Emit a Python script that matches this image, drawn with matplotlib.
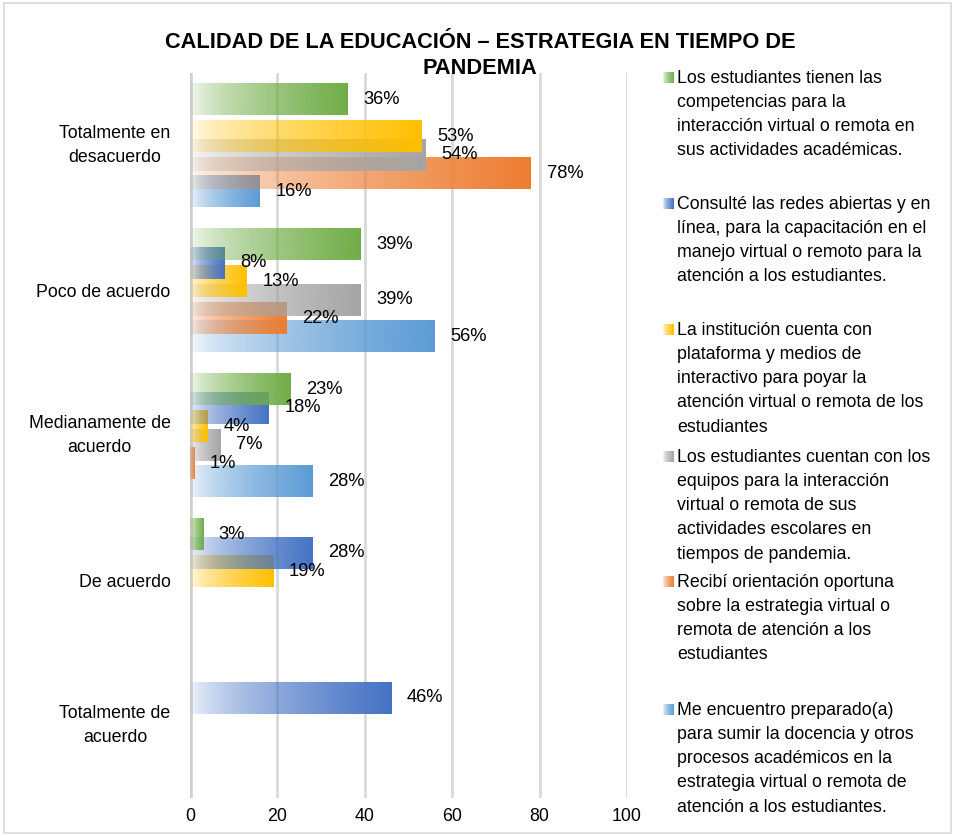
import numpy as np
import matplotlib.pyplot as plt
from matplotlib.colors import to_rgb
from matplotlib.patches import Rectangle

plt.rcParams['font.family'] = ['Liberation Sans', 'DejaVu Sans']

# Data
categories = ['Totalmente en\ndesacuerdo', 'Poco de acuerdo', 'Medianamente de\nacuerdo',
              'De acuerdo', 'Totalmente de\nacuerdo']
green = [36, 39, 23, 3, 0]
blue = [0, 8, 18, 28, 46]
yellow = [53, 13, 4, 19, 0]
gray = [54, 39, 7, 0, 0]
orange = [78, 22, 1, 0, 0]
lightblue = [16, 56, 28, 0, 0]

series = [green, blue, yellow, gray, orange, lightblue]
colors = ['#70AD47', '#4472C4', '#FFC000', '#A5A5A5', '#ED7D31', '#5B9BD5']
legend_labels = [
    'Los estudiantes tienen las\ncompetencias para la\ninteracción virtual o remota en\nsus actividades académicas.',
    'Consulté las redes abiertas y en\nlínea, para la capacitación en el\nmanejo virtual o remoto para la\natención a los estudiantes.',
    'La institución cuenta con\nplataforma y medios de\ninteractivo para poyar la\natención virtual o remota de los\nestudiantes',
    'Los estudiantes cuentan con los\nequipos para la interacción\nvirtual o remota de sus\nactividades escolares en\ntiempos de pandemia.',
    'Recibí orientación oportuna\nsobre la estrategia virtual o\nremota de atención a los\nestudiantes',
    'Me encuentro preparado(a)\npara sumir la docencia y otros\nprocesos académicos en la\nestrategia virtual o remota de\natención a los estudiantes.',
]


def gradient(color, n=256):
    t = np.linspace(0, 1, n)
    rgba = np.zeros((1, n, 4))
    rgba[0, :, :3] = to_rgb(color)
    rgba[0, :, 3] = 0.03 + 0.97 * t ** 0.6
    return rgba


fig = plt.figure(figsize=(9.55, 8.36), dpi=100)
ax = fig.add_axes([190 / 955, 1 - 798 / 836, 437 / 955, 725 / 836])

step = 0.127
height = 0.22
y = np.arange(len(categories))

# draw last series first so the first series ends up on top
for i in range(len(series) - 1, -1, -1):
    offs = (i - 2.5) * step
    for j, v in enumerate(series[i]):
        if v <= 0:
            continue
        yc = y[j] + offs
        ax.imshow(gradient(colors[i]), extent=[0, v, yc + height / 2, yc - height / 2],
                  aspect='auto', interpolation='bilinear', zorder=3 + (6 - i))
        ax.text(v + 3.6, yc, f'{v}%', va='center', ha='left', fontsize=13.2, zorder=10)

ax.set_xlim(0, 100)
ax.set_ylim(4.5, -0.5)
ax.set_xticks([0, 20, 40, 60, 80, 100])
ax.set_yticks(y)
ax.set_yticklabels(categories, ma='center', linespacing=1.55)
for lbl in ax.get_yticklabels():
    if '\n' in lbl.get_text():
        lbl.set_va('center')
ax.tick_params(axis='both', length=0, labelsize=12.8)
ax.tick_params(axis='y', pad=14)
ax.tick_params(axis='x', pad=7)
for s in ax.spines.values():
    s.set_visible(False)
ax.grid(axis='x', color='#d9d9d9', linewidth=2, zorder=0)
ax.set_axisbelow(True)
ax.axvline(0, color='#d0d0d0', linewidth=4, zorder=1)

fig.text(0.503, 1 - 32 / 836, 'CALIDAD DE LA EDUCACIÓN – ESTRATEGIA EN TIEMPO DE\nPANDEMIA',
         ha='center', va='top', ma='center', fontsize=15.7, fontweight='bold', linespacing=1.3)

# legend drawn by hand, one fixed slot per entry
first_line = [77, 203, 329, 456, 581, 709]
for i, lab in enumerate(legend_labels):
    yy = first_line[i]
    max_ = fig.add_axes([663 / 955, 1 - (yy + 6) / 836, 10 / 955, 11 / 836])
    max_.imshow(gradient(colors[i]), aspect='auto', extent=[0, 1, 0, 1])
    max_.axis('off')
    fig.text(677 / 955, 1 - (yy - 7) / 836, lab, ha='left', va='top', fontsize=12.8, linespacing=1.55)

fig.add_artist(Rectangle((4 / 955, 3 / 836), 947 / 955, 830 / 836, transform=fig.transFigure,
                         fill=False, edgecolor='#d9d9d9', linewidth=1.2))

fig.savefig('out.png', dpi=100)
